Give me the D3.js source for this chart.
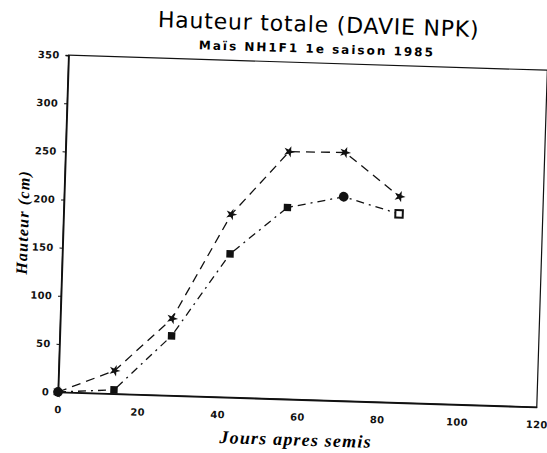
<!DOCTYPE html>
<html>
<head>
<meta charset="utf-8">
<script src="https://cdn.jsdelivr.net/npm/d3@7/dist/d3.min.js"></script>
<style>
  body { margin: 0; background: #fff; }
  svg { display: block; }
</style>
</head>
<body>
<svg id="chart" width="547" height="453"></svg>
<script>
"use strict";

// days after sowing
const days = [0, 14, 28, 42, 56, 70, 84];
// series 1 (stars, dashed) and series 2 (squares, dash-dot), height in cm
const hauteurA = [0, 24, 80, 190, 257, 258, 214];
const hauteurB = [0, 4, 62, 149, 199, 212, 196];
const markersB = ["circle", "square", "square", "square", "square", "circle", "open"];
const xTicks = [0, 20, 40, 60, 80, 100, 120];
const yTicks = [0, 50, 100, 150, 200, 250, 300, 350];

const svg = d3.select("#chart");
const plotL = 58, plotB = 392, plotR = 537, plotT = 55;

// the scanned page is tilted a little; rotate everything around the origin corner
const g = svg.append("g")
  .attr("transform", `rotate(1.8, ${plotL}, ${plotB})`);

// titles
g.append("text")
  .attr("x", 307).attr("y", 24)
  .attr("text-anchor", "middle")
  .attr("font-family", "DejaVu Sans")
  .attr("font-size", 22)
  .attr("letter-spacing", 0.8)
  .text("Hauteur totale (DAVIE NPK)");

g.append("text")
  .attr("x", 306).attr("y", 45)
  .attr("text-anchor", "middle")
  .attr("font-family", "DejaVu Sans")
  .attr("font-weight", "bold")
  .attr("font-size", 12)
  .attr("letter-spacing", 2)
  .text("Maïs NH1F1 1e saison 1985");

const x = d3.scaleLinear().domain([0, 120]).range([plotL, plotR]);
const y = d3.scaleLinear().domain([0, 350]).range([plotB, plotT]);

// frame
g.append("rect")
  .attr("x", plotL).attr("y", plotT)
  .attr("width", plotR - plotL).attr("height", plotB - plotT)
  .attr("fill", "none").attr("stroke", "#111").attr("stroke-width", 1.2);

const xAxis = g.append("g")
  .attr("transform", `translate(0,${plotB})`)
  .call(d3.axisBottom(x).tickValues(xTicks).tickSize(0).tickPadding(14));
const yAxis = g.append("g")
  .attr("transform", `translate(${plotL},0)`)
  .call(d3.axisLeft(y).tickValues(yTicks).tickSize(3).tickPadding(6));

[xAxis, yAxis].forEach(a => {
  a.select(".domain").attr("stroke", "#111").attr("stroke-width", 1.6);
  a.selectAll("text")
    .attr("font-family", "DejaVu Sans")
    .attr("font-weight", "bold")
    .attr("font-size", 10)
    .attr("letter-spacing", 0.3)
    .attr("fill", "#111");
  a.selectAll(".tick line").attr("stroke", "#111");
});

// axis titles
g.append("text")
  .attr("x", 297).attr("y", plotB + 46)
  .attr("text-anchor", "middle")
  .attr("font-family", "Liberation Serif")
  .attr("font-style", "italic")
  .attr("font-weight", "bold")
  .attr("font-size", 18)
  .attr("letter-spacing", 1.2)
  .text("Jours apres semis");

g.append("text")
  .attr("transform", `translate(${plotL - 35},${y(175)}) rotate(-90)`)
  .attr("text-anchor", "middle")
  .attr("font-family", "Liberation Serif")
  .attr("font-style", "italic")
  .attr("font-weight", "bold")
  .attr("font-size", 16)
  .attr("letter-spacing", 1.2)
  .text("Hauteur (cm)");

const line = d3.line().x(d => x(d[0])).y(d => y(d[1]));
const ptsA = days.map((d, i) => [d, hauteurA[i]]);
const ptsB = days.map((d, i) => [d, hauteurB[i]]);

g.append("path").datum(ptsA)
  .attr("d", line)
  .attr("fill", "none").attr("stroke", "#111").attr("stroke-width", 1.3)
  .attr("stroke-dasharray", "9,6");

g.append("path").datum(ptsB)
  .attr("d", line)
  .attr("fill", "none").attr("stroke", "#111").attr("stroke-width", 1.3)
  .attr("stroke-dasharray", "8,5,2,5");

// markers
g.selectAll(".starA").data(ptsA).enter().append("path")
  .attr("transform", d => `translate(${x(d[0])},${y(d[1])}) rotate(20)`)
  .attr("d", d3.symbol().type(d3.symbolStar).size(40))
  .attr("fill", "#111");

g.selectAll(".markB").data(ptsB).enter().append("path")
  .attr("transform", d => `translate(${x(d[0])},${y(d[1])})`)
  .attr("d", (d, i) => d3.symbol()
    .type(markersB[i] === "circle" ? d3.symbolCircle : d3.symbolSquare)
    .size(markersB[i] === "circle" ? 75 : 55)())
  .attr("fill", (d, i) => markersB[i] === "open" ? "#fff" : "#111")
  .attr("stroke", "#111")
  .attr("stroke-width", (d, i) => markersB[i] === "open" ? 2 : 0);
</script>
</body>
</html>
